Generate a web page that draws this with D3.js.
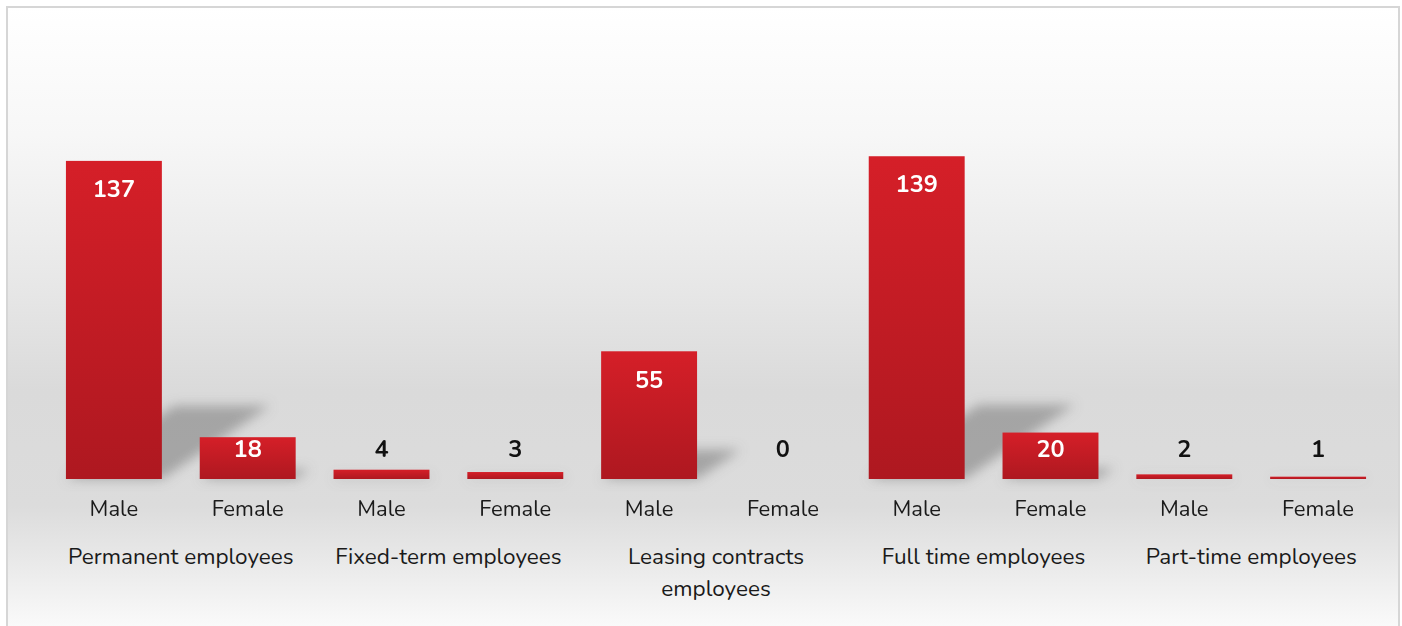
<!DOCTYPE html>
<html>
<head>
<meta charset="utf-8">
<script src="https://cdn.jsdelivr.net/npm/d3@7"></script>
<style>
  body { margin: 0; background: #fff; }
  text { font-family: "Nunito", "Open Sans", sans-serif; }
</style>
</head>
<body>
<div id="chart"></div>
<script>
// Chart data
let groups = ["Permanent employees", "Fixed-term employees", "Leasing contracts employees", "Full time employees", "Part-time employees"];
let genders = ["Male", "Female"];
let maleValues = [137, 4, 55, 139, 2];
let femaleValues = [18, 3, 0, 20, 1];

let width = 1402,
    height = 626;
let margin = {top: 60, right: 17, bottom: 147, left: 47};

let rows = [];
groups.forEach(function(g, i) {
    rows.push({group: g, gender: "Male", key: i + "-Male", value: maleValues[i]});
    rows.push({group: g, gender: "Female", key: i + "-Female", value: femaleValues[i]});
});

let svg = d3.select("#chart")
    .append("svg")
    .attr("width", width)
    .attr("height", height);

let defs = svg.append("defs");

// background gradient (white -> grey -> white)
let bg = defs.append("linearGradient")
    .attr("id", "bg").attr("x1", 0).attr("y1", 0).attr("x2", 0).attr("y2", 1);
[[0, "#ffffff"], [0.2, "#f7f7f7"], [0.45, "#e6e6e6"], [0.6, "#dadada"], [0.78, "#dcdcdc"], [0.86, "#e8e8e8"], [1, "#ffffff"]]
    .forEach(function(s) { bg.append("stop").attr("offset", s[0]).attr("stop-color", s[1]); });

let barGrad = defs.append("linearGradient")
    .attr("id", "bar").attr("x1", 0).attr("y1", 0).attr("x2", 0).attr("y2", 1);
barGrad.append("stop").attr("offset", 0).attr("stop-color", "#d51f28");
barGrad.append("stop").attr("offset", 1).attr("stop-color", "#ae1820");

let blur = defs.append("filter").attr("id", "blur")
    .attr("x", "-50%").attr("y", "-50%").attr("width", "200%").attr("height", "200%");
blur.append("feGaussianBlur").attr("stdDeviation", 6);

svg.append("rect")
    .attr("x", 7).attr("y", 7)
    .attr("width", 1392).attr("height", 640)
    .attr("fill", "url(#bg)")
    .attr("stroke", "#d6d6d6")
    .attr("stroke-width", 2);

let x = d3.scaleBand()
    .domain(rows.map(function(d) { return d.key; }))
    .range([margin.left, width - margin.right])
    .paddingInner(0.283)
    .paddingOuter(0.1415);

let y = d3.scaleLinear()
    .domain([0, 160])
    .range([height - margin.bottom, height - margin.bottom - 160 * 2.322]);

let base = y(0);

// skewed shadows behind bars
svg.append("g")
    .attr("filter", "url(#blur)")
    .selectAll("path")
    .data(rows.filter(function(d) { return d.value > 0; }))
    .enter()
    .append("path")
    .attr("fill", "#808080")
    .attr("opacity", 0.6)
    .attr("d", function(d) {
        let h = base - y(d.value);
        let x0 = x(d.key), x1 = x0 + x.bandwidth();
        let top = base - h * 0.23, shift = h * 0.34;
        return "M" + x0 + "," + base + "L" + (x0 + shift) + "," + top +
               "L" + (x1 + shift) + "," + top + "L" + x1 + "," + base + "Z";
    });

svg.append("g")
    .selectAll("rect")
    .data(rows)
    .enter()
    .append("rect")
    .attr("x", function(d) { return x(d.key); })
    .attr("y", function(d) { return y(d.value); })
    .attr("width", x.bandwidth())
    .attr("height", function(d) { return base - y(d.value); })
    .attr("fill", "url(#bar)");

// value labels: inside the bar when there is room, above it otherwise
function labelY(d) { return Math.min(y(d.value) + 28, base - 30); }

svg.append("g")
    .selectAll("text")
    .data(rows)
    .enter()
    .append("text")
    .attr("x", function(d) { return x(d.key) + x.bandwidth() / 2; })
    .attr("y", labelY)
    .attr("dy", "0.35em")
    .attr("text-anchor", "middle")
    .style("font-size", "23.5px")
    .style("font-weight", "bold")
    .attr("fill", function(d) { return y(d.value) < labelY(d) - 10 ? "#ffffff" : "#111111"; })
    .text(function(d) { return d.value; });

// gender labels
svg.append("g")
    .selectAll("text")
    .data(rows)
    .enter()
    .append("text")
    .attr("x", function(d) { return x(d.key) + x.bandwidth() / 2; })
    .attr("y", base + 29)
    .attr("dy", "0.35em")
    .attr("text-anchor", "middle")
    .style("font-size", "22px")
    .attr("fill", "#1a1a1a")
    .text(function(d) { return d.gender; });

// group labels, wrapped like the source
let groupLines = {
    "Leasing contracts employees": ["Leasing contracts", "employees"]
};
let groupText = svg.append("g")
    .selectAll("text")
    .data(groups)
    .enter()
    .append("text")
    .attr("text-anchor", "middle")
    .style("font-size", "22.5px")
    .attr("fill", "#1a1a1a")
    .attr("transform", function(d, i) {
        let cx = (x(i + "-Male") + x(i + "-Female") + x.bandwidth()) / 2;
        return "translate(" + cx + "," + (base + 77) + ")";
    });

groupText.each(function(d) {
    let lines = groupLines[d] || [d];
    d3.select(this).selectAll("tspan")
        .data(lines)
        .enter()
        .append("tspan")
        .attr("x", 0)
        .attr("y", function(l, j) { return j * 32; })
        .attr("dy", "0.35em")
        .text(function(l) { return l; });
});
</script>
</body>
</html>
